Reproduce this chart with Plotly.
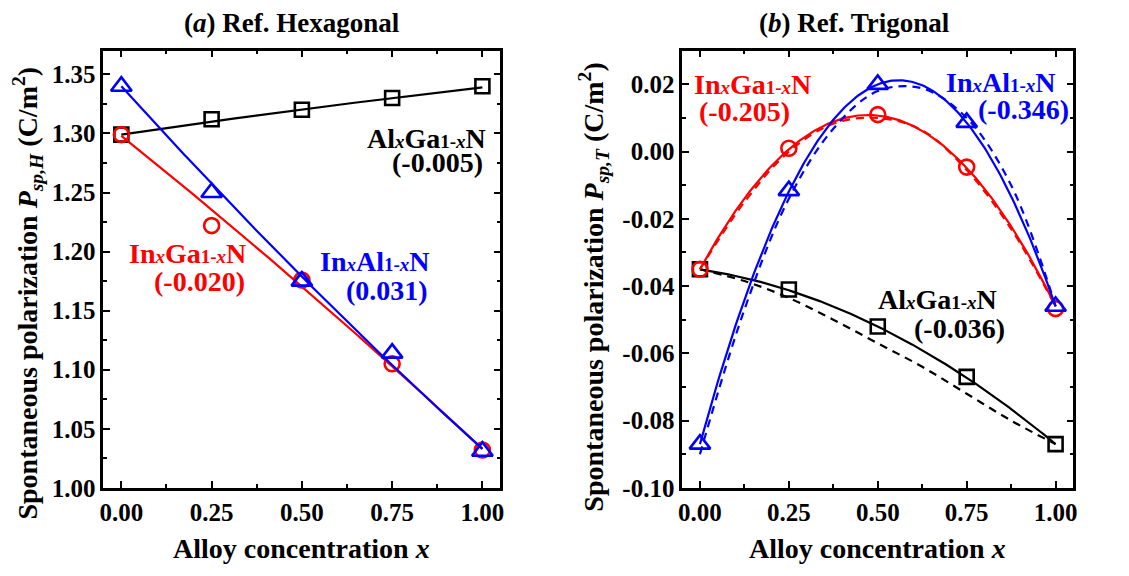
import numpy as np
import plotly.graph_objects as go

# ---------------- data ----------------
x_conc = [0.0, 0.25, 0.5, 0.75, 1.0]

# (a) hexagonal reference: computed spontaneous polarization (C/m^2)
hex_algan = [1.299, 1.312, 1.320, 1.330, 1.340]
hex_ingan = [1.299, 1.222, 1.176, 1.105, 1.032]
hex_inaln = [1.340, 1.250, 1.175, 1.114, 1.031]

# (b) trigonal reference
tri_algan = [-0.035, -0.041, -0.052, -0.067, -0.087]
tri_ingan = [-0.035, 0.001, 0.011, -0.0046, -0.0467]
tri_inaln = [-0.087, -0.0116, 0.020, 0.0087, -0.046]

# quadratic fits: value at x=0, value at x=1, bowing parameter
hex_fit = {
    "algan": (1.299, 1.339, -0.005),
    "ingan": (1.298, 1.033, -0.020),
    "inaln": (1.340, 1.033, 0.031),
}
tri_fit = {
    "algan": (-0.035, -0.087, -0.036),
    "ingan": (-0.035, -0.046, -0.205),
    "inaln": (-0.087, -0.046, -0.346),
}

# alternative (dashed) curves for the trigonal reference
x_dash = [0.0, 0.125, 0.25, 0.375, 0.5, 0.625, 0.75, 0.875, 1.0]
dash_algan = [-0.035, -0.0385, -0.0435, -0.050, -0.057, -0.064, -0.072, -0.080, -0.087]
dash_ingan = [-0.035, -0.0150, 0.0000, 0.0083, 0.0100, 0.0063, -0.0055, -0.0230, -0.046]
dash_inaln = [-0.090, -0.0470, -0.0140, 0.0068, 0.0180, 0.0188, 0.0100, -0.0100, -0.046]

# tick positions and labels
x_ticks = [0.0, 0.25, 0.5, 0.75, 1.0]
x_ticktext = ["0.00", "0.25", "0.50", "0.75", "1.00"]
hex_yticks = [1.00, 1.05, 1.10, 1.15, 1.20, 1.25, 1.30, 1.35]
hex_yticktext = ["1.00", "1.05", "1.10", "1.15", "1.20", "1.25", "1.30", "1.35"]
tri_yticks = [-0.10, -0.08, -0.06, -0.04, -0.02, 0.00, 0.02]
tri_yticktext = ["-0.10", "-0.08", "-0.06", "-0.04", "-0.02", "0.00", "0.02"]

RED, BLUE, BLACK = "#ff0000", "#0000ff", "#000000"
FONT = "Liberation Serif"


def bowing_curve(a, b, bow, xs):
    xs = np.asarray(xs)
    return a * (1 - xs) + b * xs - bow * xs * (1 - xs)


x_fine = np.linspace(0, 1, 201)

fig = go.Figure()

series = [
    ("algan", BLACK, "square-open"),
    ("ingan", RED, "circle-open"),
    ("inaln", BLUE, "triangle-up-open"),
]
marker_size = {"square-open": 14, "circle-open": 15, "triangle-up-open": 18}

hex_data = {"algan": hex_algan, "ingan": hex_ingan, "inaln": hex_inaln}
tri_data = {"algan": tri_algan, "ingan": tri_ingan, "inaln": tri_inaln}
tri_dash = {"algan": dash_algan, "ingan": dash_ingan, "inaln": dash_inaln}

for key, col, sym in series:
    a, b, bow = hex_fit[key]
    fig.add_trace(go.Scatter(x=x_fine, y=bowing_curve(a, b, bow, x_fine), mode="lines",
                             line=dict(color=col, width=2.2), xaxis="x", yaxis="y",
                             showlegend=False, hoverinfo="skip"))
    fig.add_trace(go.Scatter(x=x_conc, y=hex_data[key], mode="markers",
                             marker=dict(symbol=sym, size=marker_size[sym], color=col,
                                         line=dict(color=col, width=2.6)),
                             xaxis="x", yaxis="y", showlegend=False))

for key, col, sym in series:
    a, b, bow = tri_fit[key]
    fig.add_trace(go.Scatter(x=x_dash, y=tri_dash[key], mode="lines", line_shape="spline",
                             line=dict(color=col, width=2.2, dash="8px,6px"),
                             xaxis="x2", yaxis="y2", showlegend=False, hoverinfo="skip"))
    fig.add_trace(go.Scatter(x=x_fine, y=bowing_curve(a, b, bow, x_fine), mode="lines",
                             line=dict(color=col, width=2.2), xaxis="x2", yaxis="y2",
                             showlegend=False, hoverinfo="skip"))
    fig.add_trace(go.Scatter(x=x_conc, y=tri_data[key], mode="markers",
                             marker=dict(symbol=sym, size=marker_size[sym], color=col,
                                         line=dict(color=col, width=2.6)),
                             xaxis="x2", yaxis="y2", showlegend=False))

tickfont = dict(family=FONT, size=25, color="black", weight="bold")
axis_common = dict(showline=True, linecolor="black", linewidth=2.5, mirror="allticks",
                   ticks="inside", ticklen=7, tickwidth=2, tickcolor="black",
                   showgrid=False, zeroline=False, tickfont=tickfont)

W, H = 1129, 576
xa_dom = [100 / W, 500 / W]
xb_dom = [683 / W, 1077 / W]
y_dom = [1 - 500 / H, 1 - 52 / H]

fig.update_layout(
    width=W, height=H,
    margin=dict(l=0, r=0, t=0, b=0),
    paper_bgcolor="white", plot_bgcolor="white",
    xaxis=dict(domain=xa_dom, range=[-0.05, 1.05], anchor="y", tickmode="array",
               tickvals=x_ticks, ticktext=x_ticktext,
               minor=dict(dtick=0.125, tick0=0, ticks="inside", ticklen=4, tickwidth=2,
                          tickcolor="black"), **axis_common),
    yaxis=dict(domain=y_dom, range=[1.0, 1.37], anchor="x", tickmode="array",
               tickvals=hex_yticks, ticktext=hex_yticktext,
               minor=dict(dtick=0.025, tick0=1.0, ticks="inside", ticklen=4, tickwidth=2,
                          tickcolor="black"), **axis_common),
    xaxis2=dict(domain=xb_dom, range=[-0.05, 1.05], anchor="y2", tickmode="array",
                tickvals=x_ticks, ticktext=x_ticktext,
                minor=dict(dtick=0.125, tick0=0, ticks="inside", ticklen=4, tickwidth=2,
                           tickcolor="black"), **axis_common),
    yaxis2=dict(domain=y_dom, range=[-0.10, 0.03], anchor="x2", tickmode="array",
                tickvals=tri_yticks, ticktext=tri_yticktext,
                minor=dict(dtick=0.01, tick0=0, ticks="inside", ticklen=4, tickwidth=2,
                           tickcolor="black"), **axis_common),
)

lab_font = dict(family=FONT, size=28, weight="bold")
small = '<span style="font-size:19px">'


def alloy(a, b):
    return f"{a}{small}<i>x</i></span>{b}{small}1-<i>x</i></span>N"


labels = [
    # (text, x, y, xref, yref, color)
    (alloy("Al", "Ga"), 0.846, 1.296, "x", "y", BLACK),
    ("(-0.005)", 0.876, 1.275, "x", "y", BLACK),
    (alloy("In", "Ga"), 0.183, 1.198, "x", "y", RED),
    ("(-0.020)", 0.216, 1.175, "x", "y", RED),
    (alloy("In", "Al"), 0.703, 1.192, "x", "y", BLUE),
    ("(0.031)", 0.736, 1.167, "x", "y", BLUE),
    (alloy("In", "Ga"), 0.147, 0.0200, "x2", "y2", RED),
    ("(-0.205)", 0.125, 0.0119, "x2", "y2", RED),
    (alloy("In", "Al"), 0.846, 0.0206, "x2", "y2", BLUE),
    ("(-0.346)", 0.909, 0.0125, "x2", "y2", BLUE),
    (alloy("Al", "Ga"), 0.668, -0.0440, "x2", "y2", BLACK),
    ("(-0.036)", 0.730, -0.0525, "x2", "y2", BLACK),
]
for text, x, y, xr, yr, col in labels:
    fig.add_annotation(text=text, x=x, y=y, xref=xr, yref=yr, showarrow=False,
                       xanchor="center", yanchor="middle",
                       font=dict(lab_font, color=col))

title_font = dict(family=FONT, size=27, color="black", weight="bold")
axt_font = dict(family=FONT, size=28, color="black", weight="bold")

# panel titles
fig.add_annotation(text="(<i>a</i>) Ref. Hexagonal", x=290 / W, y=1 - 24 / H,
                   xref="paper", yref="paper", showarrow=False,
                   xanchor="center", yanchor="middle", font=title_font)
fig.add_annotation(text="(<i>b</i>) Ref. Trigonal", x=857 / W, y=1 - 24 / H,
                   xref="paper", yref="paper", showarrow=False,
                   xanchor="center", yanchor="middle", font=title_font)

# axis titles
for cx in (300, 880):
    fig.add_annotation(text="Alloy concentration <i>x</i>", x=cx / W, y=1 - 562 / H,
                       xref="paper", yref="paper", showarrow=False,
                       xanchor="center", yanchor="middle", font=axt_font)

for cx, cy, sub in ((24, 300, "sp,H"), (594, 294, "sp,T")):
    fig.add_annotation(
        text=f"Spontaneous polarization <i>P</i><sub><i>{sub}</i></sub> (C/m<sup>2</sup>)",
        x=cx / W, y=1 - cy / H, xref="paper", yref="paper", showarrow=False,
        textangle=-90, xanchor="center", yanchor="middle", font=axt_font)

fig.write_html("out.html")
